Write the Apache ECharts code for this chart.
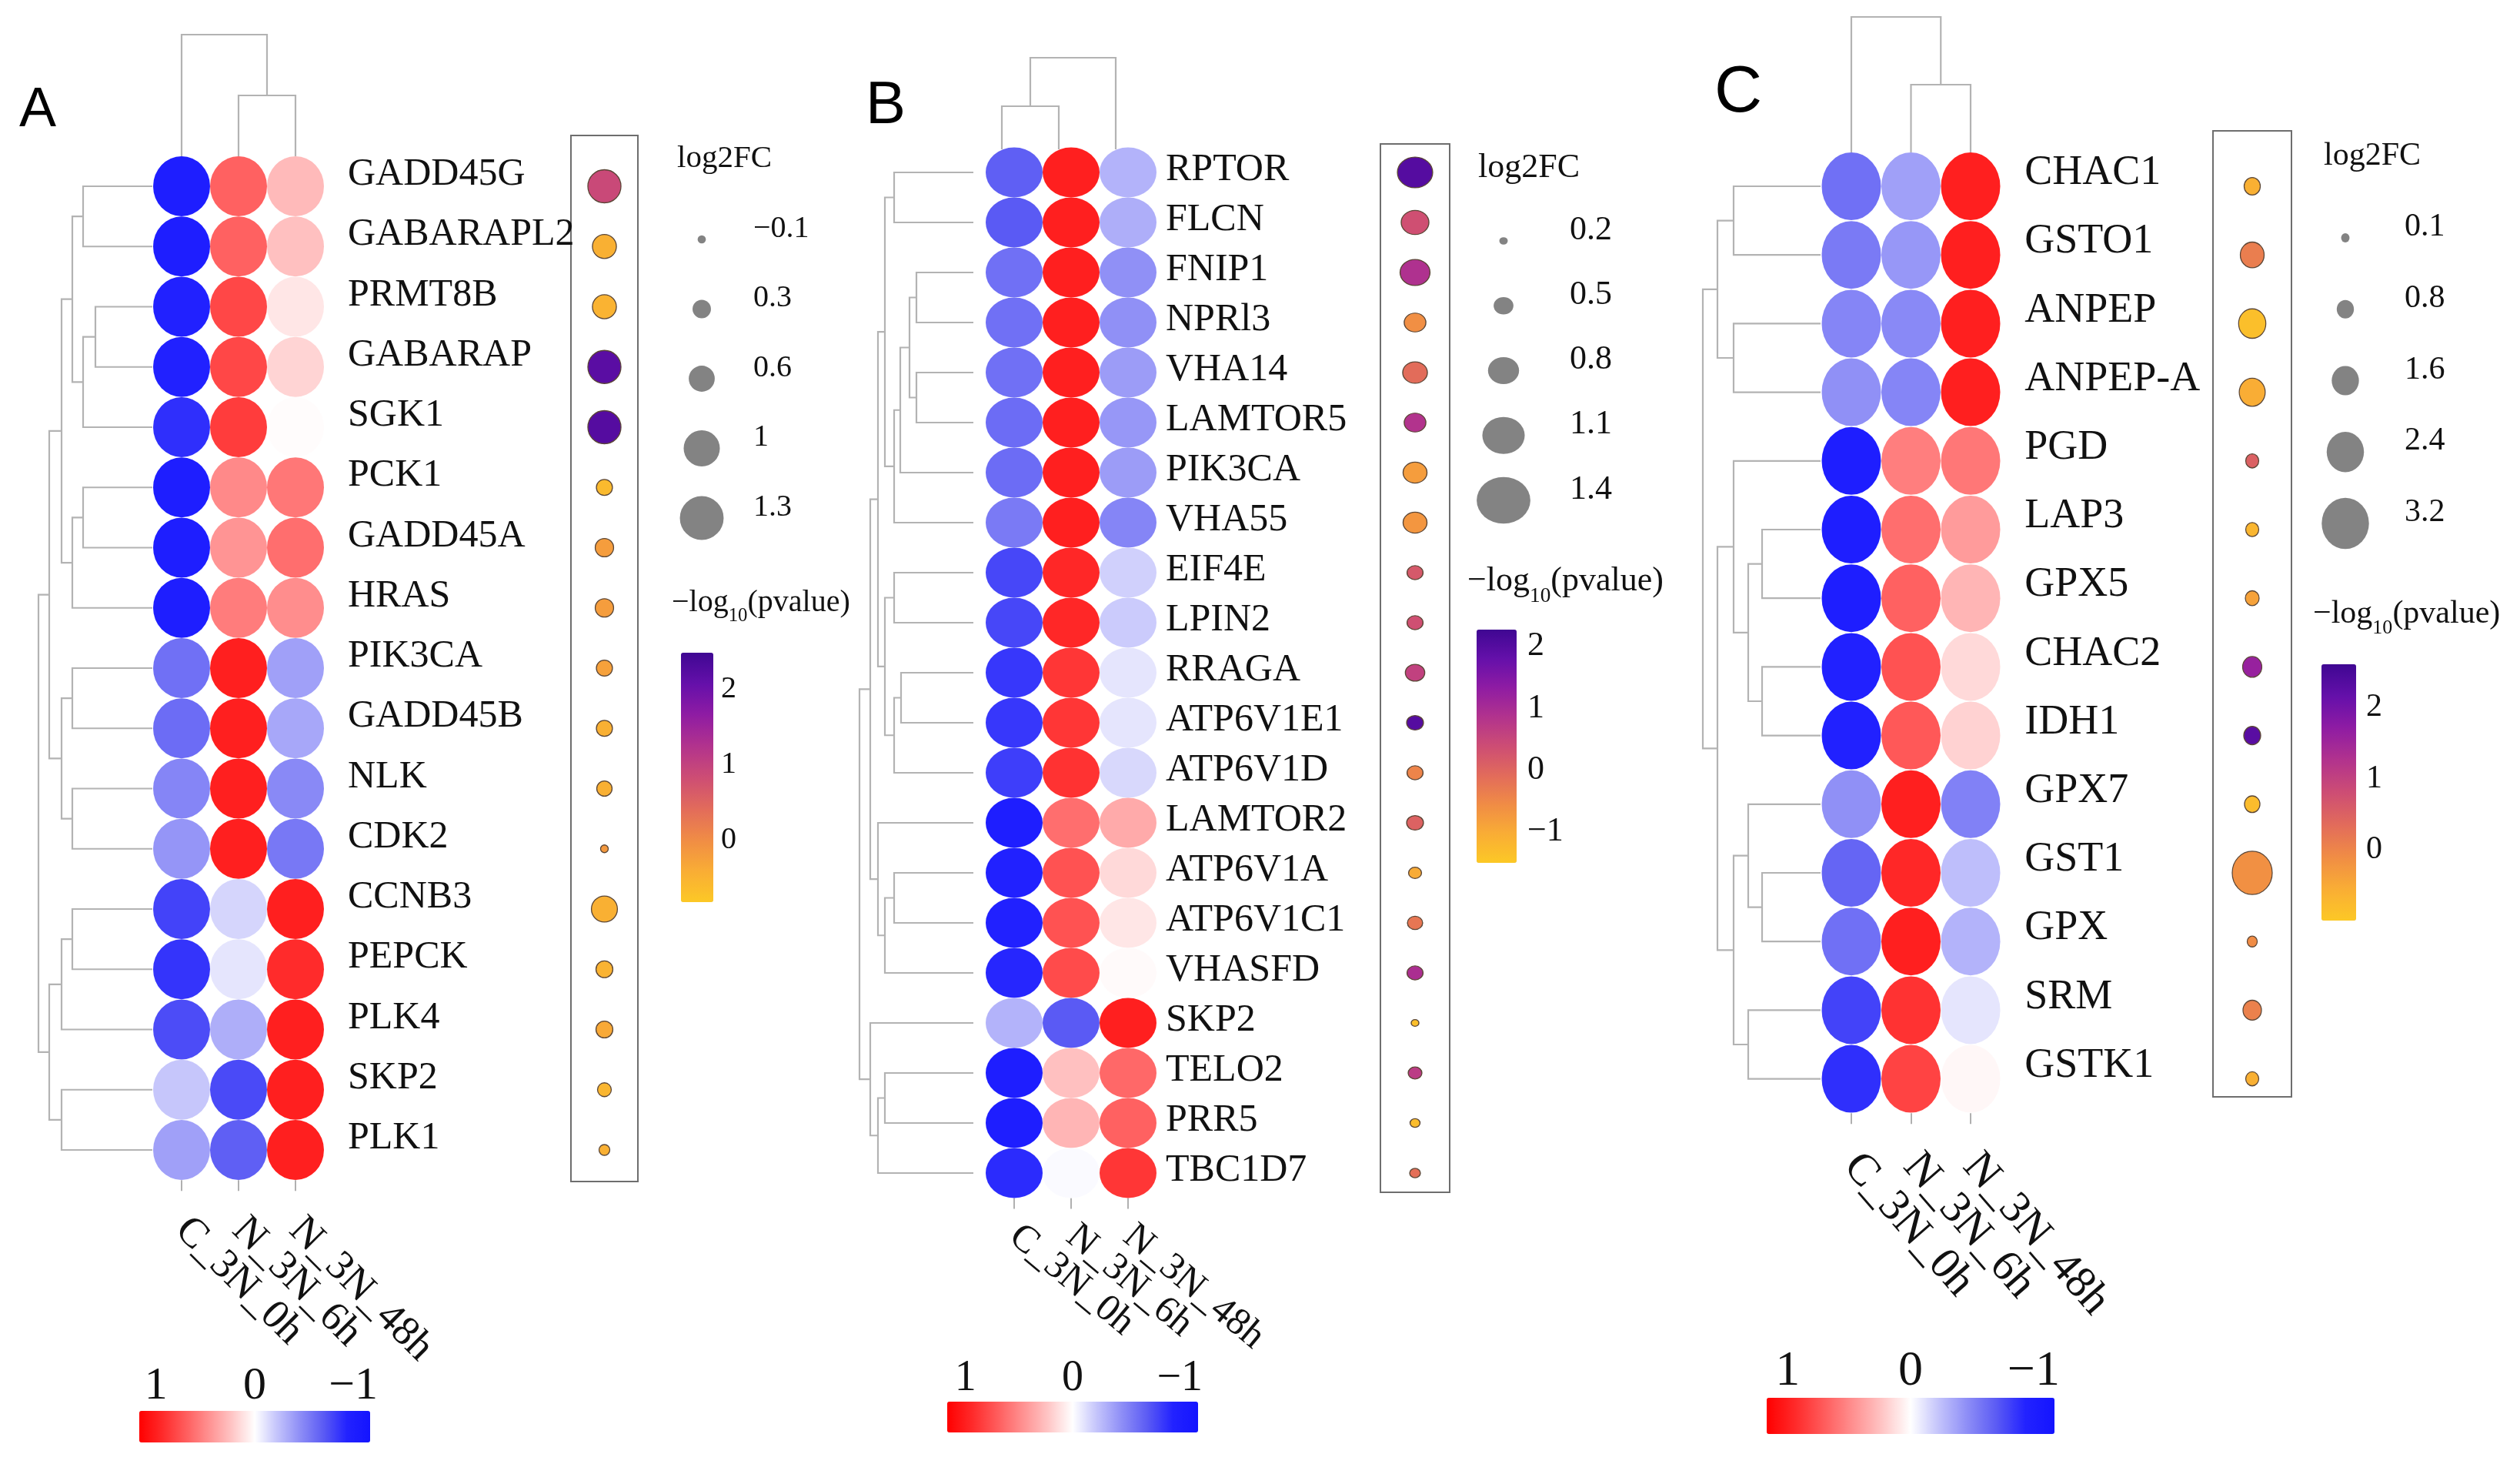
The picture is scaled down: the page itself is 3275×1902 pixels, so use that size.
<!DOCTYPE html>
<html><head><meta charset="utf-8">
<script src="https://cdn.jsdelivr.net/npm/echarts@6/dist/echarts.min.js"></script>
<style>html,body{margin:0;padding:0;background:#fff}#c{width:3275px;height:1902px}</style>
</head><body><div id="c"></div>
<script>
// ---------------- DATA ----------------
const columns = ['C_3N_0h', 'N_3N_6h', 'N_3N_48h'];
const heatTicks = [1, 0, -1];

// Panel A
const genesA = ['GADD45G','GABARAPL2','PRMT8B','GABARAP','SGK1','PCK1','GADD45A','HRAS','PIK3CA','GADD45B','NLK','CDK2','CCNB3','PEPCK','PLK4','SKP2','PLK1'];
const heatA = [
  [-1.0, 0.68, 0.28], [-1.0, 0.68, 0.25], [-0.95, 0.8, 0.1], [-0.95, 0.8, 0.17], [-0.88, 0.85, 0.01],
  [-1.0, 0.5, 0.58], [-1.0, 0.45, 0.62], [-1.0, 0.56, 0.48], [-0.6, 1.0, -0.38], [-0.62, 1.0, -0.35],
  [-0.5, 1.0, -0.48], [-0.43, 1.0, -0.56], [-0.8, -0.16, 1.0], [-0.86, -0.1, 0.93], [-0.76, -0.32, 1.0],
  [-0.22, -0.77, 1.0], [-0.38, -0.68, 1.0]
];
const fcA = [0.88, 0.52, 0.52, 0.88, 0.88, 0.21, 0.3, 0.3, 0.21, 0.21, 0.18, -0.12, 0.6, 0.24, 0.24, 0.12, 0.0];
const pA = [0.9, -0.45, -0.5, 2.2, 2.25, -0.6, -0.2, -0.2, -0.25, -0.45, -0.45, -0.15, -0.45, -0.5, -0.35, -0.55, -0.45];
const rowMergeA = [[-1,-2,90],[-3,-4,74],[2,-5,90],[1,3,104],[-6,-7,90],[5,-8,104],[4,6,118],[-9,-10,104],
  [-11,-12,104],[8,9,118],[7,10,134],[-13,-14,104],[12,-15,118],[-16,-17,118],[13,14,134],[11,15,148]];
const colMergeA = [[-2,-3,79],[-1,1,158]];
const sizeTicksA = [-0.1, 0.3, 0.6, 1, 1.3];
const pTicksA = [0, 1, 2];

// Panel B
const genesB = ['RPTOR','FLCN','FNIP1','NPRl3','VHA14','LAMTOR5','PIK3CA','VHA55','EIF4E','LPIN2','RRAGA','ATP6V1E1','ATP6V1D','LAMTOR2','ATP6V1A','ATP6V1C1','VHASFD','SKP2','TELO2','PRR5','TBC1D7'];
const heatB = [
  [-0.68, 1.0, -0.3], [-0.7, 1.0, -0.32], [-0.6, 1.0, -0.45], [-0.6, 1.0, -0.45], [-0.6, 1.0, -0.4],
  [-0.62, 1.0, -0.42], [-0.62, 1.0, -0.4], [-0.55, 1.0, -0.5], [-0.78, 0.95, -0.18], [-0.78, 0.95, -0.2],
  [-0.85, 0.88, -0.1], [-0.85, 0.88, -0.1], [-0.82, 0.9, -0.15], [-1.0, 0.62, 0.35], [-0.95, 0.75, 0.15],
  [-0.95, 0.75, 0.1], [-0.92, 0.78, 0.02], [-0.3, -0.7, 1.0], [-1.0, 0.25, 0.65], [-1.0, 0.3, 0.68],
  [-0.9, -0.02, 0.88]
];
const fcB = [0.91, 0.71, 0.77, 0.55, 0.63, 0.55, 0.61, 0.61, 0.4, 0.4, 0.49, 0.42, 0.4, 0.42, 0.32, 0.38, 0.4, 0.18, 0.34, 0.24, 0.26];
const pB = [2.0, 0.35, 0.9, -0.6, -0.1, 0.85, -0.8, -0.7, 0.2, 0.35, 0.6, 2.0, -0.45, 0.05, -1.0, -0.25, 0.95, -1.35, 0.7, -1.3, -0.15];
const rowMergeB = [[-1,-2,103],[-3,-4,74],[-5,-6,74],[2,3,83],[4,-7,95],[5,-8,103],[1,6,115],[-9,-10,103],
  [-11,-12,94],[9,-13,103],[8,10,115],[7,11,124],[-15,-16,103],[13,-17,115],[-14,14,124],[12,15,134],
  [-19,-20,115],[17,-21,124],[-18,18,134],[16,19,148]];
const colMergeB = [[-1,-2,56],[1,-3,119]];
const sizeTicksB = [0.2, 0.5, 0.8, 1.1, 1.4];
const pTicksB = [-1, 0, 1, 2];

// Panel C
const genesC = ['CHAC1','GSTO1','ANPEP','ANPEP-A','PGD','LAP3','GPX5','CHAC2','IDH1','GPX7','GST1','GPX','SRM','GSTK1'];
const heatC = [
  [-0.6, -0.38, 1.0], [-0.55, -0.42, 1.0], [-0.5, -0.48, 1.0], [-0.45, -0.5, 1.0], [-1.0, 0.55, 0.58],
  [-1.0, 0.62, 0.42], [-1.0, 0.68, 0.3], [-0.95, 0.75, 0.15], [-0.95, 0.72, 0.18], [-0.45, 1.0, -0.52],
  [-0.65, 0.95, -0.25], [-0.6, 1.0, -0.3], [-0.8, 0.9, -0.1], [-0.88, 0.82, 0.03]
];
const fcC = [0.72, 1.33, 1.6, 1.5, 0.47, 0.47, 0.53, 0.96, 0.78, 0.66, 2.62, 0.23, 0.9, 0.47];
const pC = [-0.6, 0.1, -0.85, -0.55, 0.5, -0.7, -0.4, 1.6, 2.3, -0.8, -0.15, -0.1, 0.05, -0.6];
const rowMergeC = [[-1,-2,113],[-3,-4,113],[1,2,134],[-6,-7,76],[-8,-9,76],[4,5,94],[-5,6,113],
  [-11,-12,76],[-10,8,94],[-13,-14,94],[9,10,113],[7,11,134],[3,12,153]];
const colMergeC = [[-2,-3,88],[-1,1,176]];
const sizeTicksC = [0.1, 0.8, 1.6, 2.4, 3.2];
const pTicksC = [0, 1, 2];

// ---------------- STYLE / LAYOUT ----------------
const heatRange = [-1.17, 1.17];
const heatColors = ['#1414ff','#2222ff','#5a5af4','#8c8cf6','#c2c2fb','#ffffff','#ffc4c4','#ff9090','#ff5c5c','#ff2a2a','#ff0000'];
const pColors = ['#fcc826','#f9ad35','#f08c45','#e26b5b','#cd4d74','#b2338d','#8f1ca3','#6510aa','#3f0792'];
const SERIF = '"Liberation Serif", "Times New Roman", serif';
const SANS = '"Liberation Sans", Arial, sans-serif';
const TXT = '#111111';

const panels = [
  { D: {genes: genesA, heat: heatA, fc: fcA, p: pA, rowMerge: rowMergeA, colMerge: colMergeA, sizeTicks: sizeTicksA, pTicks: pTicksA},
    L: { rowTop: 242, rowStep: 78.25, colLeft: 199, colStep: 74, circW: 74, circH: 78,
      labelMargin: 31, labelFont: 50, labelRaise: 15, xFont: 54, xRot: -45, xMargin: 57,
      rowDendro: [50, 198], colDendro: {top: 45, bottom: 203, dx: 0},
      box: {left: 742, top: 176, width: 87, height: 1359},
      size: v => 14 + 33 * v, aspect: 1.0,
      sizeLeg: {x: 912, y0: 311, step: 90.5, labelX: 979, font: 40, raise: 14},
      fcTitle: {x: 880, y: 206, font: 41}, pTitle: {x: 873, y: 785, font: 40},
      pBar: {left: 885, top: 848, width: 42, height: 324, min: -0.82, max: 2.49, labelMargin: 10, font: 40},
      hBar: {left: 181, top: 1833, width: 300, height: 41, font: 60},
      letter: {text: 'A', x: 25, y: 144, font: 72} } },
  { D: {genes: genesB, heat: heatB, fc: fcB, p: pB, rowMerge: rowMergeB, colMerge: colMergeB, sizeTicks: sizeTicksB, pTicks: pTicksB},
    L: { rowTop: 224, rowStep: 65, colLeft: 1281, colStep: 74, circW: 74, circH: 65,
      labelMargin: 12, labelFont: 50, labelRaise: 3, xFont: 50, xRot: -40, xMargin: 44,
      rowDendro: [1117, 1265], colDendro: {top: 75, bottom: 194, dx: -16},
      box: {left: 1794, top: 187, width: 90, height: 1362},
      size: v => 1.2 + 49 * v, aspect: 0.87,
      sizeLeg: {x: 1954, y0: 313, step: 84.25, labelX: 2040, font: 44, raise: 14},
      fcTitle: {x: 1921, y: 218, font: 44}, pTitle: {x: 1907, y: 758, font: 44},
      pBar: {left: 1919, top: 818, width: 52, height: 303, min: -1.5, max: 2.27, labelMargin: 14, font: 44},
      hBar: {left: 1231, top: 1821, width: 326, height: 40, font: 56},
      letter: {text: 'B', x: 1125, y: 138, font: 78} } },
  { D: {genes: genesC, heat: heatC, fc: fcC, p: pC, rowMerge: rowMergeC, colMerge: colMergeC, sizeTicks: sizeTicksC, pTicks: pTicksC},
    L: { rowTop: 242, rowStep: 89.2, colLeft: 2367.25, colStep: 77.5, circW: 77, circH: 88,
      labelMargin: 31.5, labelFont: 54, labelRaise: 17, xFont: 58, xRot: -49, xMargin: 60,
      rowDendro: [2213, 2366], colDendro: {top: 22, bottom: 198, dx: 0},
      box: {left: 2876, top: 170, width: 102, height: 1255},
      size: v => 9.3 + 16.3 * v, aspect: 1.08,
      sizeLeg: {x: 3048, y0: 309, step: 92.75, labelX: 3125, font: 42, raise: 14},
      fcTitle: {x: 3020, y: 203, font: 42}, pTitle: {x: 3006, y: 800, font: 42},
      pBar: {left: 3017, top: 863, width: 45, height: 333, min: -1.0, max: 2.61, labelMargin: 13, font: 42},
      hBar: {left: 2296, top: 1816, width: 374, height: 47, font: 64},
      letter: {text: 'C', x: 2228, y: 121, font: 86} } }
];

// ---------------- BUILD ----------------
const option = { animation: false, backgroundColor: '#ffffff', grid: [], xAxis: [], yAxis: [], series: [], visualMap: [], graphic: [] };
const fmt = v => (v < 0 ? '\u2212' + Math.abs(v) : String(v));
function addGrid(g) { option.grid.push(Object.assign({ outerBoundsMode: 'none', containLabel: false }, g)); return option.grid.length - 1; }
function addX(a) { option.xAxis.push(a); return option.xAxis.length - 1; }
function addY(a) { option.yAxis.push(a); return option.yAxis.length - 1; }
function addS(s) { option.series.push(s); return option.series.length - 1; }
// label raised above its anchor by `raise` px, through a rich token with bottom padding
function raisedLabel(font, raise, margin) {
  return { interval: 0, margin: margin, align: 'left',
    formatter: v => '{t|' + v + '}',
    rich: { t: { fontFamily: SERIF, fontSize: font, color: TXT, lineHeight: font * 1.15, padding: [0, 0, 2 * raise, 0] } } };
}

function dendroPolys(merges) {
  const pos = [], hts = [], polys = [];
  const node = id => (id < 0 ? { p: -id - 1, h: 0 } : { p: pos[id - 1], h: hts[id - 1] });
  merges.forEach(([a, b, h]) => {
    const A = node(a), B = node(b);
    pos.push((A.p + B.p) / 2); hts.push(h);
    polys.push([[A.h, A.p], [h, A.p], [h, B.p], [B.h, B.p]]);
  });
  return polys;
}
function dendroSeries(polys, xi, yi) {
  return { type: 'custom', xAxisIndex: xi, yAxisIndex: yi, silent: true, clip: false,
    data: polys.map(pl => pl[1]),
    renderItem: (params, api) => ({ type: 'polyline',
      shape: { points: polys[params.dataIndex].map(pt => api.coord(pt)) },
      style: { stroke: '#b3b3b3', lineWidth: 2.2, fill: 'none' } }) };
}

function buildPanel(D, L) {
  const n = D.genes.length;
  const heatTop = L.rowTop - L.rowStep / 2, heatH = n * L.rowStep, heatW = 3 * L.colStep;

  // heatmap of circles
  const gH = addGrid({ left: L.colLeft, top: heatTop, width: heatW, height: heatH });
  const xH = addX({ gridIndex: gH, type: 'category', data: columns, axisLine: { show: false },
    axisTick: { show: true, alignWithLabel: true, length: 14, lineStyle: { color: '#b0b0b0', width: 2 } },
    splitLine: { show: false },
    axisLabel: { interval: 0, rotate: L.xRot, margin: L.xMargin, fontFamily: SERIF, fontSize: L.xFont, color: TXT } });
  const yH = addY({ gridIndex: gH, type: 'category', data: D.genes, inverse: true, position: 'right',
    axisLine: { show: false }, axisTick: { show: false }, splitLine: { show: false },
    axisLabel: raisedLabel(L.labelFont, L.labelRaise, L.labelMargin) });
  const heatData = [];
  D.heat.forEach((row, i) => row.forEach((v, j) => heatData.push([j, i, v])));
  const sH = addS({ type: 'scatter', xAxisIndex: xH, yAxisIndex: yH, symbol: 'circle',
    symbolSize: [L.circW, L.circH], data: heatData, silent: true, itemStyle: { opacity: 1 } });

  // heat colour bar
  option.visualMap.push({ type: 'continuous', seriesIndex: sH, dimension: 2, min: heatRange[0], max: heatRange[1],
    inRange: { color: heatColors }, orient: 'horizontal', inverse: true,
    left: L.hBar.left, top: L.hBar.top, itemWidth: L.hBar.height, itemHeight: L.hBar.width,
    calculable: false, padding: 0, hoverLink: false });
  const gB = addGrid({ left: L.hBar.left, top: L.hBar.top, width: L.hBar.width, height: L.hBar.height });
  addX({ gridIndex: gB, type: 'value', min: heatRange[0], max: heatRange[1], inverse: true, position: 'top',
    axisLine: { show: false }, axisTick: { show: false }, splitLine: { show: false },
    axisLabel: { customValues: heatTicks, formatter: fmt, margin: 2, fontFamily: SERIF, fontSize: L.hBar.font, color: TXT } });
  addY({ gridIndex: gB, type: 'value', min: 0, max: 1, show: false });

  // row dendrogram
  const rPolys = dendroPolys(D.rowMerge);
  const maxR = Math.max(...D.rowMerge.map(m => m[2]));
  const gR = addGrid({ left: L.rowDendro[0], top: heatTop, width: L.rowDendro[1] - L.rowDendro[0], height: heatH });
  const xR = addX({ gridIndex: gR, type: 'value', min: 0, max: maxR, inverse: true, show: false });
  const yR = addY({ gridIndex: gR, type: 'value', min: -0.5, max: n - 0.5, inverse: true, show: false });
  addS(dendroSeries(rPolys, xR, yR));

  // column dendrogram
  const cPolys = dendroPolys(D.colMerge).map(pl => pl.map(([h, p]) => [p, h]));
  const maxC = Math.max(...D.colMerge.map(m => m[2]));
  const gC = addGrid({ left: L.colLeft + L.colDendro.dx, top: L.colDendro.top, width: heatW, height: L.colDendro.bottom - L.colDendro.top });
  const xC = addX({ gridIndex: gC, type: 'value', min: -0.5, max: 2.5, show: false });
  const yC = addY({ gridIndex: gC, type: 'value', min: 0, max: maxC, show: false });
  addS(dendroSeries(cPolys, xC, yC));

  // side dots (log2FC size, p colour) in a framed box
  const B = L.box;
  const gD = addGrid({ left: B.left, top: B.top, width: B.width, height: B.height, show: true,
    borderColor: '#6e6e6e', borderWidth: 2, backgroundColor: 'rgba(0,0,0,0)' });
  const xD = addX({ gridIndex: gD, type: 'value', min: -1, max: 1, show: false });
  const yD = addY({ gridIndex: gD, type: 'value', inverse: true, show: false,
    min: (B.top - L.rowTop) / L.rowStep, max: (B.top + B.height - L.rowTop) / L.rowStep });
  const sD = addS({ type: 'scatter', xAxisIndex: xD, yAxisIndex: yD, silent: true, symbol: 'circle',
    data: D.genes.map((g, i) => [0, i, D.fc[i], D.p[i]]),
    symbolSize: v => { const w = L.size(v[2]); return [w, w * L.aspect]; },
    itemStyle: { borderColor: '#5b4636', borderWidth: 1.3, opacity: 1 } });
  option.visualMap.push({ type: 'continuous', seriesIndex: sD, dimension: 3, min: L.pBar.min, max: L.pBar.max,
    inRange: { color: pColors }, orient: 'vertical', left: L.pBar.left, top: L.pBar.top,
    itemWidth: L.pBar.width, itemHeight: L.pBar.height, calculable: false, padding: 0, hoverLink: false });
  const gP = addGrid({ left: L.pBar.left, top: L.pBar.top, width: L.pBar.width, height: L.pBar.height });
  addX({ gridIndex: gP, type: 'value', min: 0, max: 1, show: false });
  addY({ gridIndex: gP, type: 'value', min: L.pBar.min, max: L.pBar.max, position: 'right', z: 10,
    axisLine: { show: false }, splitLine: { show: false },
    axisTick: { show: true, inside: true, length: 9, customValues: D.pTicks, lineStyle: { color: 'rgba(255,255,255,0.7)', width: 2 } },
    axisLabel: { customValues: D.pTicks, formatter: fmt, margin: L.pBar.labelMargin, fontFamily: SERIF, fontSize: L.pBar.font, color: TXT } });

  // size legend
  const S = L.sizeLeg;
  const gS = addGrid({ left: S.x - 35, top: S.y0 - S.step / 2, width: 70, height: S.step * D.sizeTicks.length });
  const xS = addX({ gridIndex: gS, type: 'value', min: -1, max: 1, show: false });
  const yS = addY({ gridIndex: gS, type: 'category', data: D.sizeTicks.map(fmt), inverse: true, position: 'right',
    axisLine: { show: false }, axisTick: { show: false }, splitLine: { show: false },
    axisLabel: raisedLabel(S.font, S.raise, S.labelX - (S.x + 35)) });
  addS({ type: 'scatter', xAxisIndex: xS, yAxisIndex: yS, silent: true, symbol: 'circle',
    data: D.sizeTicks.map((v, i) => [0, i, v]),
    symbolSize: v => { const w = L.size(v[2]); return [w, w * L.aspect]; },
    itemStyle: { color: '#646464' } });

  // texts
  option.graphic.push({ type: 'text', x: L.letter.x, y: L.letter.y, silent: true,
    style: { text: L.letter.text, fontSize: L.letter.font, fontFamily: SANS, fill: '#000',
      verticalAlign: 'middle', textVerticalAlign: 'middle' } });
  option.graphic.push({ type: 'text', x: L.fcTitle.x, y: L.fcTitle.y, silent: true,
    style: { text: 'log2FC', fontSize: L.fcTitle.font, fontFamily: SERIF, fill: TXT,
      verticalAlign: 'middle', textVerticalAlign: 'middle' } });
  const f = L.pTitle.font;
  option.graphic.push({ type: 'text', x: L.pTitle.x, y: L.pTitle.y - 0.55 * f, silent: true,
    style: { text: '{a|\u2212log}{s|10}{a|(pvalue)}', fontSize: f, fontFamily: SERIF, fill: TXT,
      verticalAlign: 'top', textVerticalAlign: 'top',
      rich: { a: { fontSize: f, fontFamily: SERIF, fill: TXT, lineHeight: f * 1.1, verticalAlign: 'top' },
              s: { fontSize: f * 0.62, fontFamily: SERIF, fill: TXT, lineHeight: f * 0.62,
                   padding: [f * 0.62, 0, 0, 0], verticalAlign: 'top' } } } });
}

panels.forEach(pn => buildPanel(pn.D, pn.L));

const chart = echarts.init(document.getElementById('c'), null, { renderer: 'canvas' });
chart.setOption(option);
</script></body></html>
